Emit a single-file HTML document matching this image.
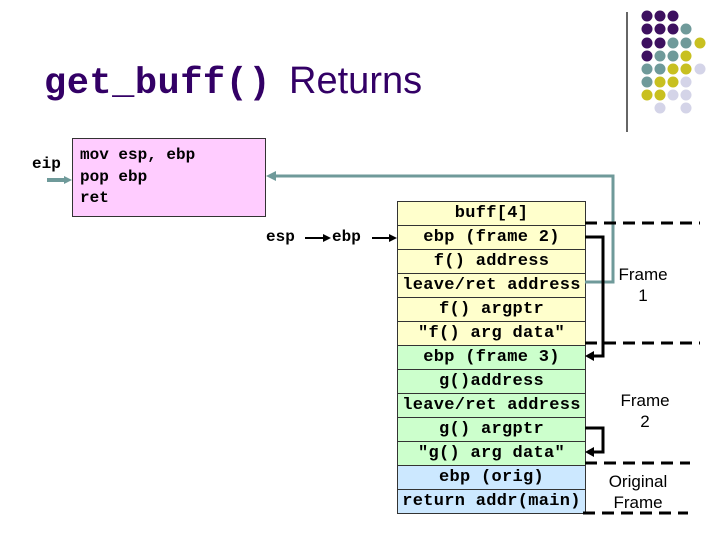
<!DOCTYPE html>
<html><head><style>
body{margin:0;width:720px;height:540px;background:#fff;position:relative;overflow:hidden;font-family:"Liberation Sans",sans-serif}
.m{font-family:"Liberation Mono",monospace;font-weight:bold}
.row{position:absolute;left:397px;width:187px;height:23px;border:1px solid #333;text-align:center;font-size:17px;line-height:23px;letter-spacing:0.3px;white-space:nowrap}
.y{background:#ffffcc}.g{background:#ccffcc}.b{background:#cce8ff}
.t{position:absolute;font-size:17px;text-align:center}
</style></head><body>
<div style="position:absolute;left:44px;top:60px;color:#330066;white-space:nowrap"><span class="m" style="font-size:37px;letter-spacing:0.5px">get_buff()</span><span style="font-size:38px;margin-left:18px">Returns</span></div>
<div style="position:absolute;left:72px;top:138px;width:192px;height:77px;background:#ffccff;border:1px solid #333"></div>
<div class="m" style="position:absolute;left:80px;top:145px;font-size:16px;line-height:21.5px">mov esp, ebp<br>pop ebp<br>ret</div>
<div class="m" style="position:absolute;left:32px;top:155px;font-size:16px">eip</div>
<div class="m" style="position:absolute;left:266px;top:228px;font-size:16px">esp</div>
<div class="m" style="position:absolute;left:332px;top:228px;font-size:16px">ebp</div>
<div class="row y m" style="top:201px">buff[4]</div>
<div class="row y m" style="top:225px">ebp (frame 2)</div>
<div class="row y m" style="top:249px">f() address</div>
<div class="row y m" style="top:273px">leave/ret address</div>
<div class="row y m" style="top:297px">f() argptr</div>
<div class="row y m" style="top:321px">"f() arg data"</div>
<div class="row g m" style="top:345px">ebp (frame 3)</div>
<div class="row g m" style="top:369px">g()address</div>
<div class="row g m" style="top:393px">leave/ret address</div>
<div class="row g m" style="top:417px">g() argptr</div>
<div class="row g m" style="top:441px">"g() arg data"</div>
<div class="row b m" style="top:465px">ebp (orig)</div>
<div class="row b m" style="top:489px">return addr(main)</div>
<div class="t" style="left:605px;top:264px;width:76px;line-height:21px">Frame<br>1</div>
<div class="t" style="left:605px;top:390px;width:80px;line-height:21px">Frame<br>2</div>
<div class="t" style="left:598px;top:471px;width:80px;line-height:21px">Original<br>Frame</div>
<svg width="720" height="540" style="position:absolute;left:0;top:0">
<line x1="627" y1="12" x2="627" y2="132" stroke="#333" stroke-width="1.5"/>
<g>
<circle cx="647" cy="16" r="5.5" fill="#3d1060"/><circle cx="660" cy="16" r="5.5" fill="#3d1060"/><circle cx="673" cy="16" r="5.5" fill="#3d1060"/>
<circle cx="647" cy="29" r="5.5" fill="#3d1060"/><circle cx="660" cy="29" r="5.5" fill="#3d1060"/><circle cx="673" cy="29" r="5.5" fill="#3d1060"/><circle cx="686" cy="29" r="5.5" fill="#6f9a9a"/>
<circle cx="647" cy="43" r="5.5" fill="#3d1060"/><circle cx="660" cy="43" r="5.5" fill="#3d1060"/><circle cx="673" cy="43" r="5.5" fill="#6f9a9a"/><circle cx="686" cy="43" r="5.5" fill="#6f9a9a"/><circle cx="700" cy="43" r="5.5" fill="#c8c020"/>
<circle cx="647" cy="56" r="5.5" fill="#3d1060"/><circle cx="660" cy="56" r="5.5" fill="#6f9a9a"/><circle cx="673" cy="56" r="5.5" fill="#6f9a9a"/><circle cx="686" cy="56" r="5.5" fill="#c8c020"/>
<circle cx="647" cy="69" r="5.5" fill="#6f9a9a"/><circle cx="660" cy="69" r="5.5" fill="#6f9a9a"/><circle cx="673" cy="69" r="5.5" fill="#c8c020"/><circle cx="686" cy="69" r="5.5" fill="#c8c020"/><circle cx="700" cy="69" r="5.5" fill="#d4d4e8"/>
<circle cx="647" cy="82" r="5.5" fill="#6f9a9a"/><circle cx="660" cy="82" r="5.5" fill="#c8c020"/><circle cx="673" cy="82" r="5.5" fill="#c8c020"/><circle cx="686" cy="82" r="5.5" fill="#d4d4e8"/>
<circle cx="647" cy="95" r="5.5" fill="#c8c020"/><circle cx="660" cy="95" r="5.5" fill="#c8c020"/><circle cx="673" cy="95" r="5.5" fill="#d4d4e8"/><circle cx="686" cy="95" r="5.5" fill="#d4d4e8"/>
<circle cx="660" cy="108" r="5.5" fill="#d4d4e8"/><circle cx="686" cy="108" r="5.5" fill="#d4d4e8"/>
</g>
<line x1="47" y1="180" x2="66" y2="180" stroke="#6f9a9a" stroke-width="4"/>
<polygon points="72,180 64,176 64,184" fill="#6f9a9a"/>
<polyline points="585,282 613,282 613,176 274,176" fill="none" stroke="#6f9a9a" stroke-width="3"/>
<polygon points="266,176 276,171 276,181" fill="#6f9a9a"/>
<line x1="305" y1="238" x2="324" y2="238" stroke="#000" stroke-width="2"/><polygon points="331,238 323,234 323,242" fill="#000"/>
<line x1="372" y1="238" x2="390" y2="238" stroke="#000" stroke-width="2"/><polygon points="397,238 389,234 389,242" fill="#000"/>
<polyline points="585,237 603,237 603,356 592,356" fill="none" stroke="#000" stroke-width="3"/>
<polygon points="585,356 594,351 594,361" fill="#000"/>
<polyline points="585,428 603,428 603,452 592,452" fill="none" stroke="#000" stroke-width="3"/>
<polygon points="585,452 594,447 594,457" fill="#000"/>
<g stroke="#000" stroke-width="3" stroke-dasharray="12,7">
<line x1="585" y1="223" x2="700" y2="223"/>
<line x1="585" y1="343" x2="700" y2="343"/>
<line x1="585" y1="463" x2="690" y2="463"/>
<line x1="583" y1="513" x2="688" y2="513"/>
</g>
</svg>
</body></html>
